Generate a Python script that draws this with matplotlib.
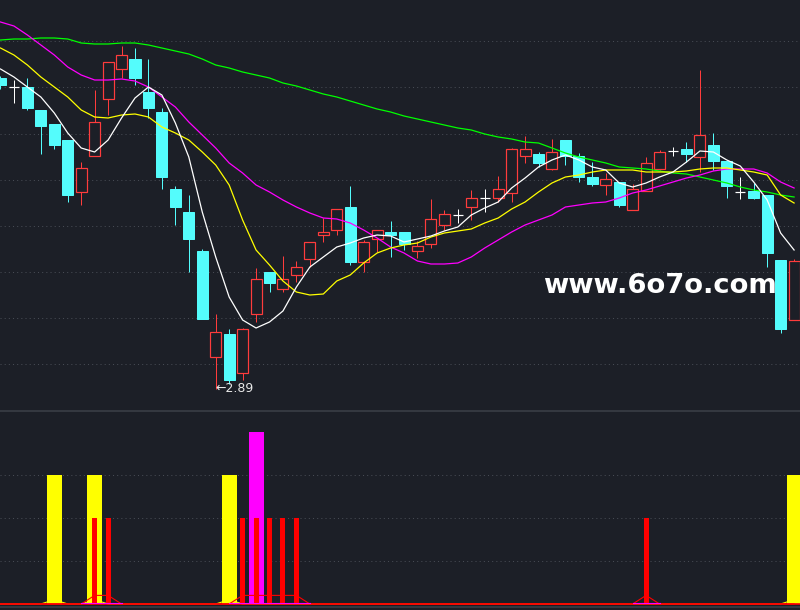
import numpy as np
import matplotlib
matplotlib.use('Agg')
import matplotlib.pyplot as plt
from matplotlib.patches import Rectangle

# daily k-line data (60 sessions)
opens = [3.512, 3.494, 3.494, 3.448, 3.420, 3.388, 3.284, 3.356, 3.470, 3.530,
         3.550, 3.484, 3.444, 3.290, 3.244, 3.166, 2.954, 3.000, 2.922, 3.040,
         3.124, 3.090, 3.118, 3.150, 3.198, 3.208, 3.254, 3.144, 3.190, 3.204,
         3.204, 3.166, 3.180, 3.218, 3.238, 3.254, 3.272, 3.272, 3.282, 3.356,
         3.360, 3.330, 3.388, 3.356, 3.314, 3.298, 3.304, 3.248, 3.286, 3.330,
         3.366, 3.370, 3.354, 3.378, 3.346, 3.284, 3.286, 3.278, 3.148, 3.028]
closes = [3.498, 3.494, 3.452, 3.416, 3.378, 3.278, 3.332, 3.424, 3.544, 3.558,
          3.512, 3.452, 3.314, 3.254, 3.190, 3.030, 3.004, 2.908, 3.010, 3.110,
          3.102, 3.110, 3.134, 3.184, 3.204, 3.250, 3.144, 3.184, 3.208, 3.198,
          3.180, 3.176, 3.230, 3.240, 3.238, 3.272, 3.272, 3.290, 3.370, 3.370,
          3.342, 3.364, 3.356, 3.314, 3.300, 3.310, 3.258, 3.290, 3.342, 3.364,
          3.366, 3.360, 3.398, 3.346, 3.296, 3.284, 3.272, 3.162, 3.010, 3.146]
highs = [3.516, 3.508, 3.512, 3.448, 3.420, 3.388, 3.344, 3.488, 3.544, 3.576,
         3.572, 3.550, 3.452, 3.296, 3.278, 3.170, 3.040, 3.010, 3.012, 3.132,
         3.124, 3.156, 3.146, 3.184, 3.232, 3.250, 3.296, 3.188, 3.208, 3.226,
         3.204, 3.186, 3.270, 3.248, 3.250, 3.288, 3.290, 3.316, 3.372, 3.396,
         3.364, 3.390, 3.388, 3.362, 3.344, 3.322, 3.304, 3.300, 3.354, 3.368,
         3.374, 3.384, 3.528, 3.402, 3.346, 3.314, 3.302, 3.278, 3.148, 3.150]
lows = [3.490, 3.462, 3.448, 3.360, 3.370, 3.264, 3.258, 3.356, 3.438, 3.512,
        3.498, 3.432, 3.290, 3.218, 3.124, 3.030, 2.890, 2.900, 2.908, 3.024,
        3.084, 3.084, 3.104, 3.134, 3.184, 3.198, 3.138, 3.124, 3.164, 3.154,
        3.168, 3.152, 3.172, 3.208, 3.222, 3.228, 3.244, 3.264, 3.264, 3.342,
        3.334, 3.328, 3.338, 3.304, 3.296, 3.278, 3.254, 3.248, 3.286, 3.328,
        3.356, 3.344, 3.324, 3.328, 3.272, 3.270, 3.270, 3.134, 3.002, 3.028]

# moving averages as shown on screen
ma5 = [3.530, 3.514, 3.494, 3.474, 3.442, 3.402, 3.372, 3.364, 3.388, 3.432,
       3.472, 3.494, 3.478, 3.422, 3.354, 3.244, 3.154, 3.074, 3.028, 3.012,
       3.024, 3.046, 3.094, 3.134, 3.154, 3.174, 3.182, 3.192, 3.198, 3.196,
       3.184, 3.190, 3.196, 3.206, 3.214, 3.238, 3.252, 3.264, 3.292, 3.312,
       3.334, 3.348, 3.358, 3.348, 3.334, 3.328, 3.302, 3.294, 3.302, 3.314,
       3.324, 3.344, 3.366, 3.364, 3.348, 3.336, 3.304, 3.268, 3.202, 3.168]
ma10 = [3.572, 3.558, 3.538, 3.514, 3.494, 3.474, 3.448, 3.434, 3.432, 3.438,
        3.440, 3.434, 3.414, 3.402, 3.388, 3.364, 3.338, 3.298, 3.228, 3.168,
        3.138, 3.106, 3.084, 3.078, 3.080, 3.106, 3.118, 3.142, 3.162, 3.172,
        3.178, 3.182, 3.194, 3.202, 3.206, 3.210, 3.222, 3.232, 3.250, 3.264,
        3.284, 3.302, 3.314, 3.318, 3.324, 3.328, 3.328, 3.328, 3.324, 3.324,
        3.324, 3.326, 3.330, 3.332, 3.332, 3.328, 3.324, 3.318, 3.278, 3.262]
ma20 = [3.624, 3.616, 3.598, 3.578, 3.558, 3.534, 3.518, 3.508, 3.508, 3.510,
        3.506, 3.494, 3.474, 3.454, 3.424, 3.398, 3.372, 3.342, 3.322, 3.298,
        3.284, 3.268, 3.254, 3.242, 3.232, 3.230, 3.222, 3.208, 3.192, 3.174,
        3.162, 3.146, 3.140, 3.140, 3.142, 3.154, 3.172, 3.188, 3.204, 3.218,
        3.228, 3.238, 3.254, 3.258, 3.262, 3.264, 3.272, 3.282, 3.288, 3.296,
        3.304, 3.312, 3.318, 3.326, 3.330, 3.330, 3.330, 3.322, 3.304, 3.292]
ma60 = [3.588, 3.590, 3.590, 3.592, 3.592, 3.590, 3.582, 3.580, 3.580, 3.582,
        3.582, 3.578, 3.572, 3.566, 3.560, 3.550, 3.538, 3.532, 3.524, 3.518,
        3.512, 3.502, 3.496, 3.488, 3.480, 3.474, 3.466, 3.458, 3.450, 3.444,
        3.436, 3.430, 3.424, 3.418, 3.412, 3.408, 3.400, 3.394, 3.390, 3.384,
        3.382, 3.372, 3.362, 3.354, 3.348, 3.342, 3.334, 3.332, 3.330, 3.326,
        3.322, 3.320, 3.314, 3.308, 3.302, 3.294, 3.288, 3.284, 3.278, 3.274]

# indicator panel
yellow_bar = np.zeros(60); yellow_bar[[4, 7, 17, 59]] = 3
red_bar = np.zeros(60); red_bar[[7, 8, 18, 19, 20, 21, 22, 48]] = 2
magenta_bar = np.zeros(60); magenta_bar[19] = 4
red_line = np.zeros(60); red_line[[7, 8, 18, 19, 20, 21, 22, 48]] = 0.2
yellow_line = np.zeros(60); yellow_line[[4, 7, 17, 59]] = 0.1
magenta_line = np.full(60, np.nan)
magenta_line[6:10] = 0.02
magenta_line[17:24] = 0.02
magenta_line[47:50] = 0.02

BG = '#1c1f27'
UP = '#ff3c3c'
DOWN = '#54fcfc'
GRID = '#474b54'
px = 0.72  # one pixel in points

fig = plt.figure(figsize=(8, 6.1), dpi=100, facecolor=BG)
ax = fig.add_axes([0, 199 / 610, 1, 411 / 610], facecolor=BG)
ax2 = fig.add_axes([0, 3 / 610, 1, 196 / 610], facecolor=BG)

x = np.arange(len(opens))
xlim = (-0.037, 59.44)

# price panel
for g in 2.940 + 0.0922 * np.arange(8):
    ax.axhline(g, color=GRID, lw=0.75, ls=(0, (1, 3)), zorder=0)

w = 0.82
for i in x:
    o, c, h, l = opens[i], closes[i], highs[i], lows[i]
    if c > o:
        ax.vlines(i, c, h, color=UP, lw=px, zorder=2)
        ax.vlines(i, l, o, color=UP, lw=px, zorder=2)
        ax.add_patch(Rectangle((i - w / 2, o), w, c - o, facecolor=BG,
                               edgecolor=UP, lw=px * 1.2, zorder=2))
    elif c < o:
        ax.vlines(i, l, h, color=DOWN, lw=px, zorder=2)
        ax.add_patch(Rectangle((i - w / 2, c), w, o - c, facecolor=DOWN,
                               edgecolor=DOWN, lw=px, zorder=2))
    else:
        ax.vlines(i, l, h, color='white', lw=px, zorder=2)
        ax.hlines(o, i - 0.38, i + 0.38, color='white', lw=px * 1.2, zorder=2)

ax.plot(x, ma60, color='#00ff00', lw=0.9, zorder=3)
ax.plot(x, ma20, color='#ff00ff', lw=0.9, zorder=3)
ax.plot(x, ma10, color='#ffff00', lw=0.9, zorder=3)
ax.plot(x, ma5, color='white', lw=0.9, zorder=3)

lo = int(np.argmin(lows))
ax.text(lo - 0.05, lows[lo], '\u2190' + f'{lows[lo]:.2f}', color='#e8e8e8',
        fontsize=9, ha='left', va='center', zorder=4)

ax.set_xlim(xlim)
ax.set_ylim(2.846, 3.668)
ax.axis('off')

# indicator panel
for g in [1, 2, 3]:
    ax2.axhline(g, color=GRID, lw=0.75, ls=(0, (1, 3)), zorder=0)
ax2.plot(x, yellow_line, color='#ffff00', lw=0.8, zorder=1)
ax2.bar(x, yellow_bar, width=1.115, color='#ffff00', zorder=2)
ax2.bar(x, magenta_bar, width=1.115, color='#ff00ff', zorder=2)
ax2.bar(x, red_bar, width=0.37, color='#ff0000', zorder=3)
ax2.plot(x, red_line, color='#ff0000', lw=0.8, zorder=4)
ax2.axhline(0, color='#ff0000', lw=1.2, zorder=4)
ax2.plot(x, magenta_line, color='#ff00ff', lw=0.8, zorder=5)
ax2.set_xlim(xlim)
ax2.set_ylim(-0.07, 4.488)
ax2.axis('off')

# panel borders
fig.add_artist(plt.Line2D([0, 1], [199 / 610, 199 / 610], color='#3a3e46', lw=1.2))
fig.add_artist(plt.Line2D([0, 1], [3 / 610, 3 / 610], color='#3a3e46', lw=1.2))

fig.text(543 / 800, 1 - 293 / 610, 'www.6o7o.com', color='white', fontsize=19.7,
         fontweight='bold', ha='left', va='baseline')

fig.savefig('out.png', dpi=100, facecolor=BG)
